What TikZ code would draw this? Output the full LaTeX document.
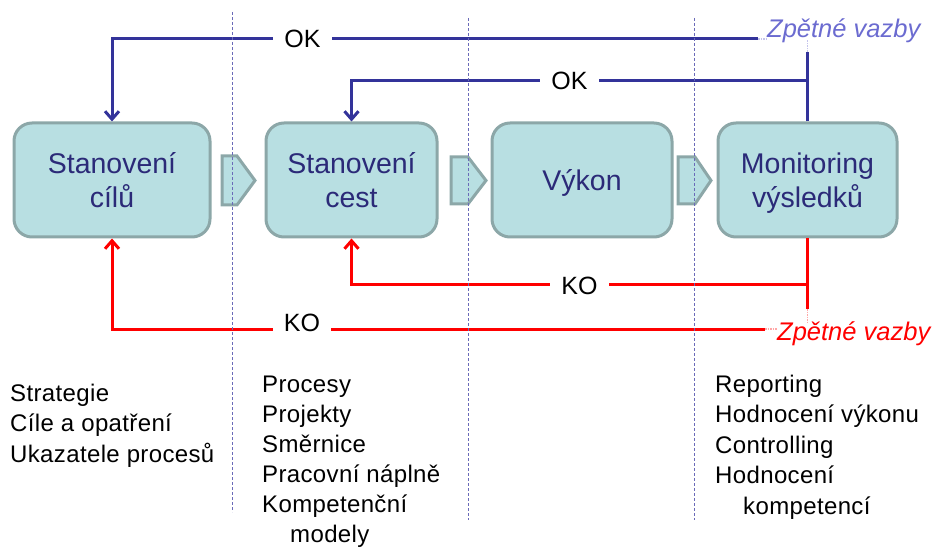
\documentclass[tikz,border=0pt]{standalone}
\usepackage{fontspec}
\setmainfont{Liberation Sans}
\newfontfamily\listfont[LetterSpace=1.5]{Liberation Sans}
\usetikzlibrary{arrows.meta}
\definecolor{boxfill}{HTML}{B8DFE2}
\definecolor{boxline}{HTML}{8CA7A8}
\definecolor{navy}{HTML}{2B2A78}
\definecolor{okblue}{HTML}{33339A}
\definecolor{fbblue}{HTML}{6B6BD0}
\definecolor{sepcol}{HTML}{6A6AB8}
\definecolor{kored}{HTML}{FF0000}
\begin{document}
\begin{tikzpicture}[x=1pt,y=-1pt,
  stage/.style={draw=boxline, line width=3pt, fill=boxfill, rounded corners=18pt,
    text=navy, font=\fontsize{28.5}{34}\selectfont, inner sep=0pt,
    minimum height=114pt, text height=31.8pt},
  chev/.style={draw=boxline, line width=3pt, fill=boxfill, line join=miter},
  sepline/.style={sepcol, line width=0.8pt, dash pattern=on 3pt off 2pt},
  okline/.style={okblue, line width=3pt},
  koline/.style={kored, line width=3pt},
  tip/.style={-{Straight Barb[length=8pt,width=14pt]}},
  lbl/.style={fill=white, text=black, font=\fontsize{25}{30}\selectfont, inner xsep=11pt, inner ysep=1pt},
  fbtext/.style={font=\fontsize{25.5}{30}\selectfont\itshape, inner sep=0pt, anchor=base west},
  faint/.style={line width=1.5pt, densely dotted},
  lst/.style={font=\fontsize{24}{30.6}\selectfont\listfont, inner sep=0pt, anchor=base west}
]
\useasboundingbox (0,0) rectangle (932,548);

% stage boxes
\node[stage, minimum width=196pt] (b1) at (112,180)
  {\begin{tabular}[t]{@{}c@{}}\smash{Stanovení}\\\smash{cílů}\end{tabular}};
\node[stage, minimum width=171pt] (b2) at (351.5,180)
  {\begin{tabular}[t]{@{}c@{}}\smash{Stanovení}\\\smash{cest}\end{tabular}};
\node[stage, minimum width=180pt] (b3) at (582,180)
  {\begin{tabular}[t]{@{}c@{}}\smash{Výkon}\end{tabular}};
\node[stage, minimum width=179pt] (b4) at (807.5,180)
  {\begin{tabular}[t]{@{}c@{}}\smash{Monitoring}\\\smash{výsledků}\end{tabular}};

% chevrons
\draw[chev] (222,156) -- (237,156) -- (255,180.5) -- (237,205) -- (222,205) -- cycle;
\draw[chev] (451,157) -- (468,157) -- (486,180.5) -- (468,204) -- (451,204) -- cycle;
\draw[chev] (678,157) -- (695,157) -- (711,180.5) -- (695,204) -- (678,204) -- cycle;

% feedback labels
\node[fbtext, text=fbblue] (fb1) at (767,38) {Zpětné vazby};
\node[fbtext, text=kored] (fb2) at (777,340) {Zpětné vazby};

% OK loops
\coordinate (okA) at (758,39);
\coordinate (fbT) at (807.5,52);
\coordinate (j1) at (807.5,81);
\draw[okline, tip] (okA) -| (b1.north);
\draw[okline] (b4.north) -- (fbT);
\draw[okline, tip] (j1) -| (b2.north);
\draw[faint, fbblue!40] (okA) -- (okA -| fb1.west);
\draw[faint, fbblue!40] (fbT) -- (807.5,40);
\node[lbl] (ok1) at (302.5,38.5) {OK};
\node[lbl] (ok2) at (569.5,81) {OK};

% KO loops
\coordinate (fbB) at (807.5,309);
\coordinate (j2) at (807.5,284);
\coordinate (koB) at (765,329);
\draw[koline] (b4.south) -- (fbB);
\draw[koline, tip] (j2) -| (b2.south);
\draw[koline, tip] (koB) -| (b1.south);
\draw[faint, kored!35] (fbB) -- (807.5,322);
\draw[faint, kored!35] (koB) -- (koB -| fb2.west);
\node[lbl] (ko1) at (579.5,286) {KO};
\node[lbl] (ko2) at (302,323) {KO};

% lists
\node[lst] (colA) at (10,401)
  {\begin{tabular}[t]{@{}l@{}}Strategie\\Cíle a opatření\\Ukazatele procesů\end{tabular}};
\node[lst, font=\fontsize{24}{30}\selectfont\listfont] (colB) at (262,392)
  {\begin{tabular}[t]{@{}l@{}}Procesy\\Projekty\\Směrnice\\Pracovní náplně\\Kompetenční\\\hspace*{28pt}modely\end{tabular}};
\node[lst] (colC) at (715,392)
  {\begin{tabular}[t]{@{}l@{}}Reporting\\Hodnocení výkonu\\Controlling\\Hodnocení\\\hspace*{28pt}kompetencí\end{tabular}};

% separators
\draw[sepline] (232.5,12) -- (232.5,512);
\draw[sepline] (468,18) -- (468,520);
\draw[sepline] (694,18) -- (694,520);
\end{tikzpicture}
\end{document}
